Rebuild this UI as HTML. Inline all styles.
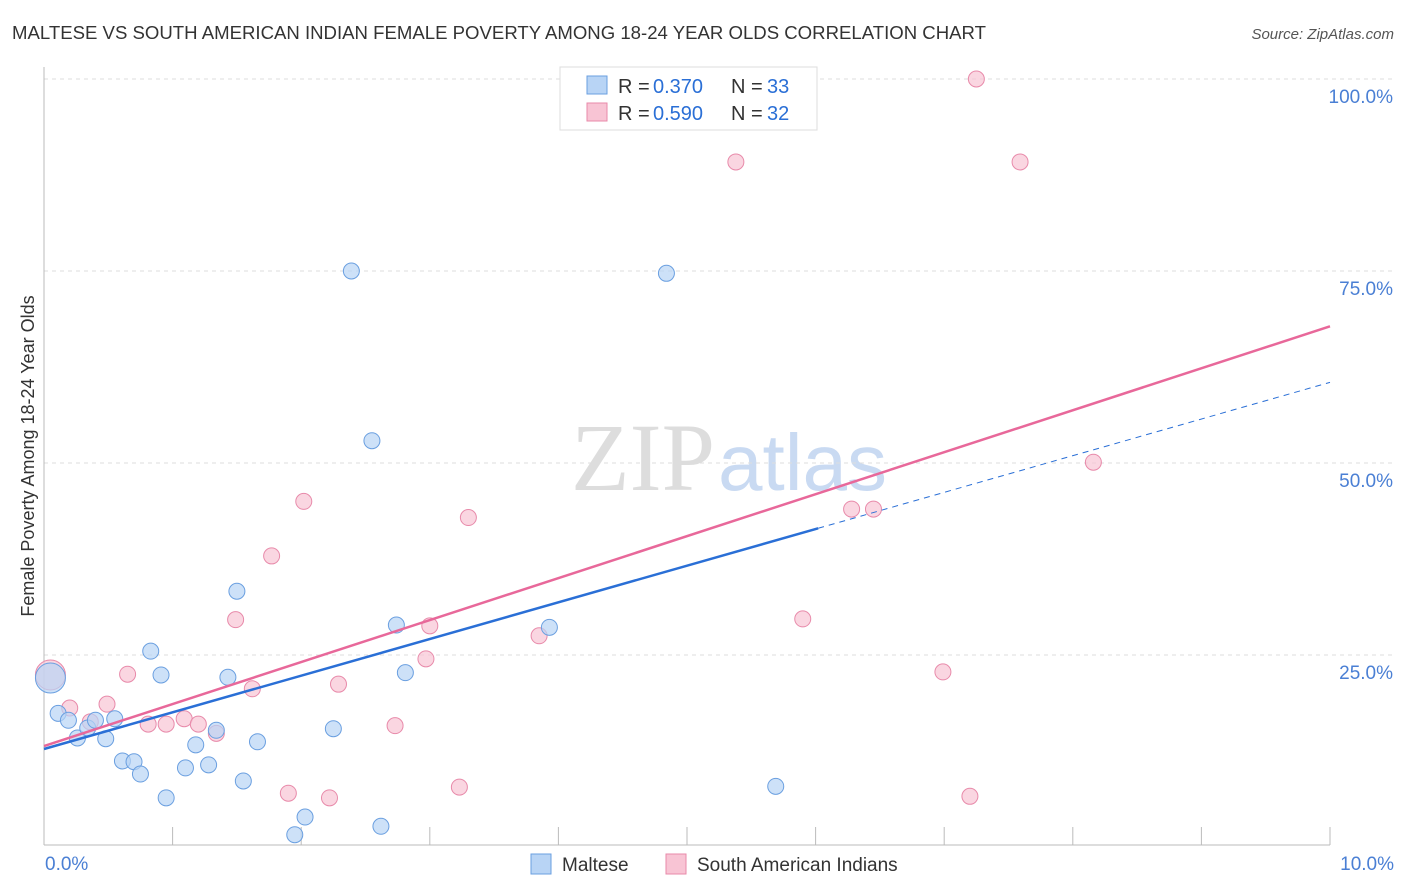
<!DOCTYPE html>
<html><head><meta charset="utf-8">
<style>
body{margin:0;background:#fff;font-family:"Liberation Sans",sans-serif;}
svg{display:block}
</style></head>
<body>
<svg id="chart" width="1406" height="892">
<text x="12" y="39" font-size="18" fill="#333" textLength="974" lengthAdjust="spacingAndGlyphs">MALTESE VS SOUTH AMERICAN INDIAN FEMALE POVERTY AMONG 18-24 YEAR OLDS CORRELATION CHART</text>
<text x="1394" y="39" font-size="15" fill="#555" font-style="italic" text-anchor="end">Source: ZipAtlas.com</text>
<text x="715" y="490" font-size="96" fill="#ddd" text-anchor="end" font-family="Liberation Serif,serif">ZIP</text>
<text x="718" y="490" font-size="80" fill="#c9daf2">atlas</text>
<g id="grid"></g>
<g id="axes"></g>
<g id="points"></g>
<g id="trends"></g>
<text transform="translate(34,456) rotate(-90)" font-size="18" fill="#333" text-anchor="middle">Female Poverty Among 18-24 Year Olds</text>
<g>
<rect x="560" y="67" width="257" height="63" fill="#fff" stroke="#ddd"/>
<rect x="587" y="76" width="20" height="18" fill="#b8d4f5" stroke="#6a9fe0"/>
<rect x="587" y="103" width="20" height="18" fill="#f8c4d4" stroke="#e88aaa"/>
<text x="618" y="93" font-size="20" fill="#333">R = </text><text x="653" y="93" font-size="20" fill="#2a6fd6">0.370</text>
<text x="731" y="93" font-size="20" fill="#333">N = </text><text x="767" y="93" font-size="20" fill="#2a6fd6">33</text>
<text x="618" y="120" font-size="20" fill="#333">R = </text><text x="653" y="120" font-size="20" fill="#2a6fd6">0.590</text>
<text x="731" y="120" font-size="20" fill="#333">N = </text><text x="767" y="120" font-size="20" fill="#2a6fd6">32</text>
</g>
<g>
<rect x="531" y="854" width="20" height="20" fill="#b8d4f5" stroke="#6a9fe0"/>
<text x="562" y="871" font-size="19" fill="#333">Maltese</text>
<rect x="666" y="854" width="20" height="20" fill="#f8c4d4" stroke="#e88aaa"/>
<text x="697" y="871" font-size="19" fill="#333">South American Indians</text>
</g>
</svg>
<script>
const xTicks=[0,1,2,3,4,5,6,7,8,9,10];
const yTicks=[25,50,75,100];
const yTickLabels=["25.0%","50.0%","75.0%","100.0%"];
const xEndLabels=["0.0%","10.0%"];
const malteseX=[0.05,0.11,0.19,0.26,0.34,0.40,0.48,0.55,0.61,0.70,0.75,0.83,0.91,0.95,1.10,1.18,1.28,1.34,1.43,1.50,1.55,1.66,1.95,2.03,2.25,2.39,2.55,2.62,2.74,2.81,3.93,4.84,5.69];
const malteseY=[22.0,17.4,16.5,14.2,15.5,16.5,14.1,16.7,11.2,11.1,9.5,25.5,22.4,6.4,10.3,13.3,10.7,15.2,22.1,33.3,8.6,13.7,1.6,3.9,15.4,75.0,52.9,2.7,28.9,22.7,28.6,74.7,7.9];
const samX=[0.05,0.20,0.36,0.49,0.65,0.81,0.95,1.09,1.20,1.34,1.49,1.62,1.77,1.90,2.02,2.22,2.29,2.73,2.97,3.00,3.23,3.30,3.85,5.38,5.90,6.28,6.45,6.99,7.20,7.25,7.59,8.16];
const samY=[22.4,18.1,16.3,18.6,22.5,16.0,16.0,16.7,16.0,14.8,29.6,20.6,37.9,7.0,45.0,6.4,21.2,15.8,24.5,28.8,7.8,42.9,27.5,89.2,29.7,44.0,44.0,22.8,6.6,100.0,89.2,50.1];
const trendBlue=[12.76,60.5];
const trendPink=[13.15,67.8];
const blueSolidEnd=6.02;
const NS="http://www.w3.org/2000/svg";
const L=44,R=1330,T=79,B=847;
const sx=v=>L+(R-L)*v/10;
const sy=v=>B-(B-T)*v/100;
function mk(tag,attrs,parent){const e=document.createElementNS(NS,tag);for(const k in attrs)e.setAttribute(k,attrs[k]);parent.appendChild(e);return e;}
const grid=document.getElementById('grid'),axes=document.getElementById('axes'),pts=document.getElementById('points'),tr=document.getElementById('trends');
yTicks.forEach((t,i)=>{
 const g=mk('line',{x1:L,x2:1395,y1:sy(t),y2:sy(t),stroke:'#ddd','stroke-dasharray':'4,4'},grid);
 
 
 const tx=mk('text',{x:1393,y:sy(t)+24,'font-size':19,fill:'#4a7fd4','text-anchor':'end'},axes);
 tx.textContent=yTickLabels[i];
 
 
});
const ya=mk('line',{x1:L,x2:L,y1:67,y2:845,stroke:'#bbb'},axes);


const xa=mk('line',{x1:L,x2:R,y1:845,y2:845,stroke:'#bbb'},axes);


xTicks.forEach(t=>{
 const l=mk('line',{x1:sx(t),x2:sx(t),y1:827,y2:845,stroke:'#bbb'},axes);
 
 
});
[[0,'start',45],[10,'end',1394]].forEach((d,i)=>{
 const tx=mk('text',{x:d[2],y:870,'font-size':19,fill:'#4a7fd4','text-anchor':d[1]},axes);
 tx.textContent=xEndLabels[i];
 
 
});
function drawPts(xs,ys,fill,stroke,name){
 xs.forEach((x,i)=>{
  const big=i===0;
  const c=mk('circle',{cx:sx(x),cy:sy(ys[i]),r:big?15:8,fill:fill,'fill-opacity':0.7,stroke:stroke,'stroke-width':1},pts);
  
  
 });
}
drawPts(samX,samY,'#f8c4d4','#e88aaa','south-american-indian-point');
drawPts(malteseX,malteseY,'#b8d4f5','#6a9fe0','maltese-point');
const by=x=>trendBlue[0]+(trendBlue[1]-trendBlue[0])*x/10;
const py=x=>trendPink[0]+(trendPink[1]-trendPink[0])*x/10;
const pl=mk('line',{x1:sx(0),y1:sy(py(0)),x2:sx(10),y2:sy(py(10)),stroke:'#e8689a','stroke-width':2.5},tr);


const bl=mk('line',{x1:sx(0),y1:sy(by(0)),x2:sx(blueSolidEnd),y2:sy(by(blueSolidEnd)),stroke:'#2a6fd6','stroke-width':2.5},tr);


const bd=mk('line',{x1:sx(blueSolidEnd),y1:sy(by(blueSolidEnd)),x2:sx(10),y2:sy(by(10)),stroke:'#2a6fd6','stroke-width':1,'stroke-dasharray':'6,5'},tr);


</script>
</body></html>
